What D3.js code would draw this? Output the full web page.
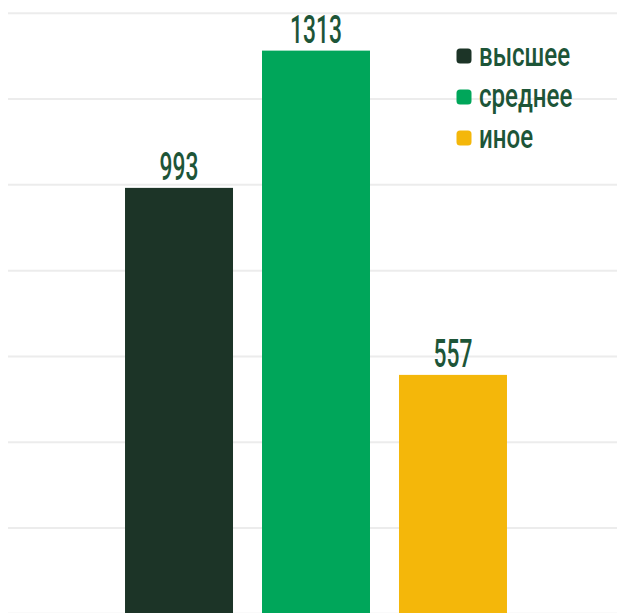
<!DOCTYPE html>
<html lang="ru">
<head>
    <meta charset="UTF-8">
    <title>Образование</title>
    <style>
        body {
            margin: 0;
            padding: 0;
            background: #fff;
        }
        svg {
            display: block;
        }
        .grid line {
            stroke: #ececec;
            stroke-width: 2;
        }
        .label, .legend text {
            font-family: Roboto, "Noto Sans", sans-serif;
            font-weight: 500;
            fill: #1d5538;
        }
    </style>
</head>
<body>
    <div id="chart"></div>
    <script src="https://d3js.org/d3.v7.min.js"></script>
    <script>
        const categories = ['высшее', 'среднее', 'иное'];
        const values = [993, 1313, 557];
        const colors = ['#1c3427', '#00a65a', '#f4b70a'];
        const gridTicks = [0, 200, 400, 600, 800, 1000, 1200, 1400];

        const width = 617;
        const height = 613;

        const svg = d3.select('#chart')
            .append('svg')
            .attr('width', width)
            .attr('height', height);

        const x = d3.scaleBand()
            .domain(categories)
            .range([110.5, 521.5])
            .paddingInner(0.2117)
            .paddingOuter(0.106);

        const y = d3.scaleLinear()
            .domain([0, 1400])
            .range([613.8, 13.3]);

        // horizontal gridlines
        svg.append('g')
            .attr('class', 'grid')
            .selectAll('line')
            .data(gridTicks)
            .enter().append('line')
            .attr('x1', 8)
            .attr('x2', width)
            .attr('y1', d => y(d))
            .attr('y2', d => y(d));

        const data = categories.map((c, i) => ({ name: c, value: values[i], color: colors[i] }));

        svg.append('g')
            .selectAll('rect')
            .data(data)
            .enter().append('rect')
            .attr('x', d => x(d.name))
            .attr('y', d => y(d.value))
            .attr('width', x.bandwidth())
            .attr('height', d => y(0) - y(d.value))
            .attr('fill', d => d.color);

        // value labels, narrowed to look like a condensed face
        svg.append('g')
            .selectAll('text')
            .data(data)
            .enter().append('text')
            .attr('class', 'label')
            .attr('text-anchor', 'middle')
            .attr('font-size', 38)
            .attr('transform', d => `translate(${x(d.name) + x.bandwidth() / 2},${y(d.value) - 7.5}) scale(0.6,1)`)
            .text(d => d.value);

        // legend
        const legend = svg.append('g')
            .attr('class', 'legend')
            .selectAll('g')
            .data(data)
            .enter().append('g')
            .attr('transform', (d, i) => `translate(456.5,${56 + i * 41})`);

        legend.append('rect')
            .attr('x', 0)
            .attr('y', -7.5)
            .attr('width', 15)
            .attr('height', 15)
            .attr('rx', 3.5)
            .attr('fill', d => d.color);

        legend.append('text')
            .attr('font-size', 33)
            .attr('transform', 'translate(22.5,9.5) scale(0.73,1)')
            .text(d => d.name);
    </script>
</body>
</html>
